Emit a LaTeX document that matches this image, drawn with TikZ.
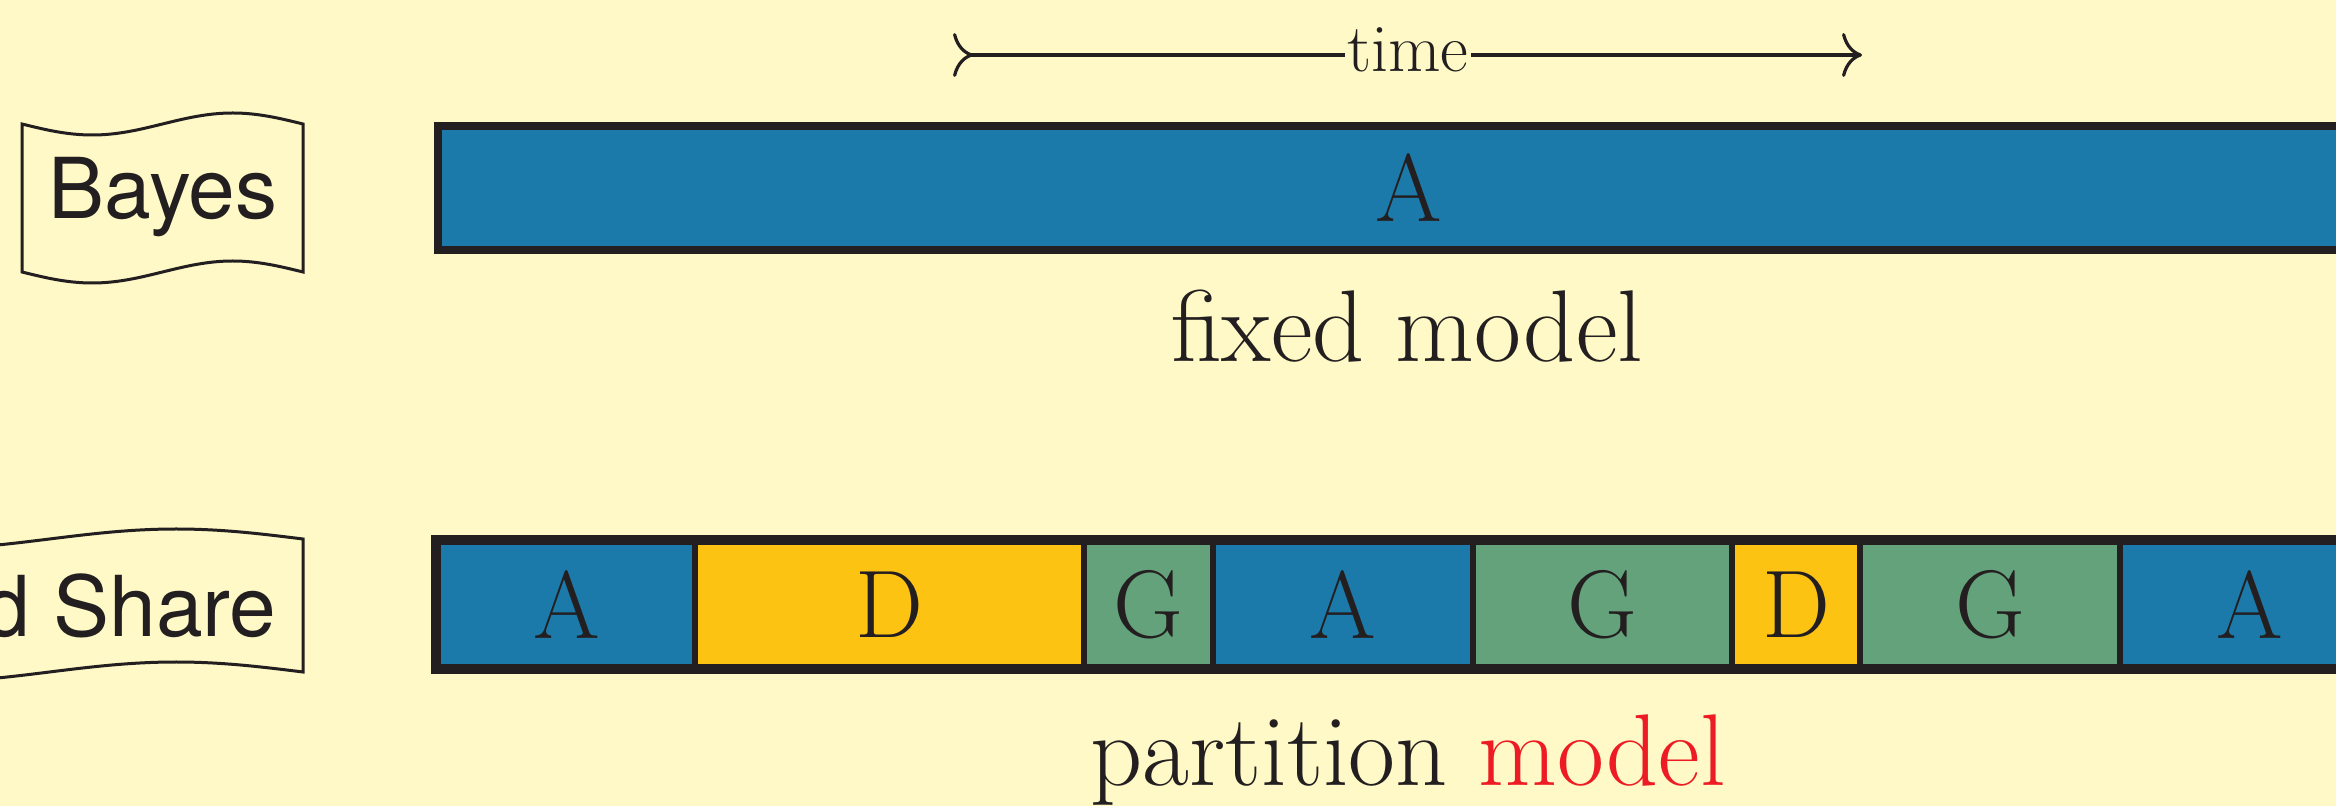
\documentclass[tikz,border=0pt]{standalone}
\usepackage{fontspec}
\newfontfamily\flagfont{TeX Gyre Heros}
\usetikzlibrary{arrows.meta}
\definecolor{bg}{HTML}{FEF9C6}
\definecolor{dark}{HTML}{231F20}
\definecolor{cblue}{HTML}{1C7AAB}
\definecolor{cyellow}{HTML}{FDC313}
\definecolor{cgreen}{HTML}{64A27B}
\definecolor{accent}{HTML}{ED1C24}
\begin{document}
\begin{tikzpicture}[x=0.5pt,y=-0.5pt,
  cell/.style={draw=dark, line width=3pt, inner sep=0pt, minimum height=62.5pt,
    font=\fontsize{48}{50}\selectfont, text=dark},
  outerbox/.style={draw=dark, line width=3.6pt},
  flag/.style={draw=dark, line width=1.5pt, line join=miter},
  flaglabel/.style={font=\flagfont\fontsize{42}{46}\selectfont, text=dark, inner sep=0pt},
  caption/.style={font=\fontsize{51}{54}\selectfont, text=dark, inner sep=0pt},
  timeline/.style={draw=dark, line width=2.2pt},
  timetip/.tip={Computer Modern Rightarrow[length=10pt,width=22pt,line width=1.6pt]},
]
\useasboundingbox (0,0) rectangle (2336,806);
\fill[bg] (0,0) rectangle (2336,806);
\clip (0,0) rectangle (2336,806);

% time arrow
\node[font=\fontsize{34}{36}\selectfont, text=dark, inner sep=1pt, anchor=base] (time) at (1408,72) {time};
\coordinate (tl) at (953,55);
\coordinate (tr) at (1862,55);
\draw[timeline, {timetip[reversed]}-] (tl) -- (tl -| time.west);
\draw[timeline, -{timetip}] (time.east |- tr) -- (tr);

% Bayes flag
\draw[flag] (22,124) sin (92.25,135) cos (162.5,124) sin (232.75,113) cos (303,124)
  -- (303,272) sin (232.75,261) cos (162.5,272) sin (92.25,283) cos (22,272) -- cycle;
\node[flaglabel, anchor=base] (bayes) at (163,219) {Bayes};

% Fixed Share flag
\draw[flag] (-204,539) sin (-77.25,549) cos (49.5,539) sin (176.25,529) cos (303,539)
  -- (303,672) sin (176.25,662) cos (49.5,672) sin (-77.25,682) cos (-204,672) -- cycle;
\node[flaglabel, anchor=base east] (fixedshare) at (277,637) {Fixed Share};

% fixed model bar
\node[outerbox, fill=cblue, inner sep=0pt, minimum width=971pt, minimum height=62pt,
  font=\fontsize{48}{50}\selectfont, text=dark] (fixedbar) at (1409,188) {A};
\node[caption, anchor=base] (fixedcap) at (1407,362) {fixed model};

% partition model bar
\node[cell, fill=cblue,   minimum width=128.5pt] (c1) at (566.5,604.5) {A};
\node[cell, fill=cyellow, minimum width=194.5pt] (c2) at (889.5,604.5) {D};
\node[cell, fill=cgreen,  minimum width=64.5pt]  (c3) at (1148.5,604.5) {G};
\node[cell, fill=cblue,   minimum width=130pt]   (c4) at (1343,604.5) {A};
\node[cell, fill=cgreen,  minimum width=129.5pt] (c5) at (1602.5,604.5) {G};
\node[cell, fill=cyellow, minimum width=64pt]    (c6) at (1796,604.5) {D};
\node[cell, fill=cgreen,  minimum width=130pt]   (c7) at (1990,604.5) {G};
\node[cell, fill=cblue,   minimum width=130pt]   (c8) at (2250,604.5) {A};
\draw[outerbox] (c1.north west) rectangle (c8.south east);
\node[caption, anchor=base] (partcap) at (1408,785) {partition \textcolor{accent}{model}};
\end{tikzpicture}
\end{document}
